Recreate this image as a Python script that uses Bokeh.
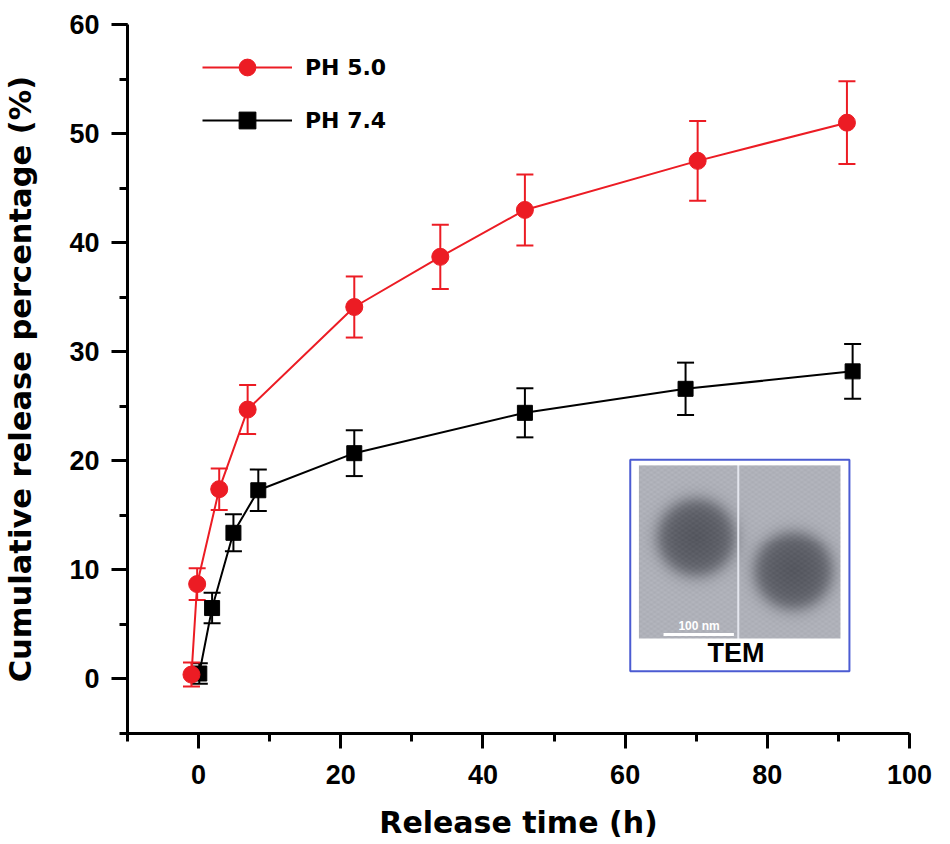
import numpy as np
from bokeh.plotting import figure
from bokeh.models import (ColumnDataSource, Whisker, TeeHead, Legend, LegendItem,
                          SingleIntervalTicker, Range1d)
from bokeh.embed import file_html
from bokeh.resources import INLINE
from bokeh.core.properties import value

# ---------------- data ----------------
time_ph50 = [-1.0, -0.2, 2.9, 6.9, 21.9, 34.0, 45.9, 70.2, 91.2]
rel_ph50 = [0.4, 8.7, 17.4, 24.7, 34.1, 38.7, 43.0, 47.5, 51.0]
err_ph50 = [1.1, 1.45, 1.9, 2.25, 2.8, 2.95, 3.25, 3.65, 3.8]

time_ph74 = [0.1, 1.9, 4.9, 8.4, 21.9, 45.9, 68.5, 92.0]
rel_ph74 = [0.5, 6.5, 13.4, 17.3, 20.7, 24.4, 26.6, 28.2]
err_ph74 = [0.95, 1.4, 1.7, 1.9, 2.1, 2.25, 2.4, 2.5]

series_labels = ["PH 5.0", "PH 7.4"]
x_title = "Release time (h)"
y_title = "Cumulative release percentage (%)"
inset_title = "TEM"
scale_text = "100 nm"

RED = "#ec1c24"
BLACK = "#000000"
BLUE = "#4b5bd2"

p = figure(width=950, height=844, output_backend="svg", toolbar_location=None,
           x_range=Range1d(-10, 100), y_range=Range1d(-5, 60),
           min_border_left=124, min_border_right=41,
           min_border_top=24, min_border_bottom=111)
p.outline_line_color = None
p.grid.visible = False
p.background_fill_color = "white"
p.border_fill_color = "white"

p.xaxis.ticker = SingleIntervalTicker(interval=20, num_minor_ticks=2)
p.yaxis.ticker = SingleIntervalTicker(interval=10, num_minor_ticks=2)
for ax in (p.xaxis, p.yaxis):
    ax.axis_line_width = 3
    ax.major_tick_line_width = 3
    ax.minor_tick_line_width = 3
    ax.major_tick_in = 0
    ax.minor_tick_in = 0
    ax.minor_tick_out = 8
    ax.major_label_text_font = "Liberation Sans"
    ax.major_label_text_font_style = "bold"
    ax.major_label_text_font_size = "27px"
    ax.major_label_text_color = "black"
    ax.axis_line_color = "black"
    ax.major_tick_line_color = "black"
    ax.minor_tick_line_color = "black"
    ax.axis_label_text_font = "DejaVu Sans"
    ax.axis_label_text_font_style = "bold"
    ax.axis_label_text_color = "black"
p.xaxis.major_tick_out = 15
p.yaxis.major_tick_out = 16
p.xaxis.major_label_standoff = 16
p.yaxis.major_label_standoff = 12

p.xaxis.axis_label = x_title
p.xaxis.axis_label_text_font_size = "30px"
p.xaxis.axis_label_standoff = 18

p.yaxis.axis_label = y_title
p.yaxis.axis_label_text_font_size = "30.5px"
p.yaxis.axis_label_standoff = 28

# ---------------- series ----------------
def make_source(t, r, e):
    return ColumnDataSource(dict(
        x=t, y=r,
        upper=[a + b for a, b in zip(r, e)],
        lower=[a - b for a, b in zip(r, e)]))

src74 = make_source(time_ph74, rel_ph74, err_ph74)
src50 = make_source(time_ph50, rel_ph50, err_ph50)

l74 = p.line("x", "y", source=src74, line_color=BLACK, line_width=2)
p.add_layout(Whisker(base="x", upper="upper", lower="lower", source=src74,
                     dimension="height", line_color=BLACK, line_width=2,
                     upper_head=TeeHead(size=17, line_color=BLACK, line_width=2),
                     lower_head=TeeHead(size=17, line_color=BLACK, line_width=2)))
s74 = p.scatter("x", "y", source=src74, marker="square", size=15,
                fill_color=BLACK, line_color=BLACK)

l50 = p.line("x", "y", source=src50, line_color=RED, line_width=2)
p.add_layout(Whisker(base="x", upper="upper", lower="lower", source=src50,
                     dimension="height", line_color=RED, line_width=2,
                     upper_head=TeeHead(size=17, line_color=RED, line_width=2),
                     lower_head=TeeHead(size=17, line_color=RED, line_width=2)))
s50 = p.scatter("x", "y", source=src50, marker="circle", size=17,
                fill_color=RED, line_color=RED)

legend = Legend(items=[LegendItem(label=series_labels[0], renderers=[l50, s50]),
                       LegendItem(label=series_labels[1], renderers=[l74, s74])],
                location=(75, 592), glyph_width=90, glyph_height=42,
                label_standoff=13, spacing=11, padding=0, margin=0,
                border_line_color=None, background_fill_alpha=0,
                label_text_font="DejaVu Sans", label_text_font_style="bold",
                label_text_font_size="22px", label_text_color="black")
p.add_layout(legend)

# ---------------- TEM inset (decoration) ----------------
box = dict(left=60.72, right=91.55, top=20.1, bottom=0.71)
photo = dict(x0=61.94, x1=90.29, y0=3.71, y1=19.58)
p.quad(left=box["left"], right=box["right"], top=box["top"], bottom=box["bottom"],
       fill_color="white", line_color=BLUE, line_width=2)

W, H = 202, 174
xx, yy = np.meshgrid(np.arange(W) + 0.5, np.arange(H) + 0.5)
g = np.full((H, W), 178.0)
g += 6.0 * np.sin(xx * 0.9) * np.cos(yy * 1.3)  # faint texture
for cx, cy, rr in ((57.3, 72.6, 39.0), (154.0, 106.0, 39.0)):
    d = np.hypot(xx - cx, yy - cy)
    t = 1.0 / (1.0 + np.exp((d - rr) / 4.5))
    core = np.clip(1.0 - d / rr, 0, 1)
    g = g - (178.0 - 100.0) * t - 12.0 * core
g[:, 98:100] = 230.0
g = np.clip(g, 0, 255)
img = np.empty((H, W), dtype=np.uint32)
view = img.view(dtype=np.uint8).reshape((H, W, 4))
view[..., 0] = np.clip(g - 2, 0, 255).astype(np.uint8)
view[..., 1] = np.clip(g, 0, 255).astype(np.uint8)
view[..., 2] = np.clip(g + 8, 0, 255).astype(np.uint8)
view[..., 3] = 255
img = img[::-1].copy()
p.image_rgba(image=[img], x=photo["x0"], y=photo["y0"],
             dw=photo["x1"] - photo["x0"], dh=photo["y1"] - photo["y0"])

p.segment(x0=[65.4], y0=[4.07], x1=[75.3], y1=[4.07], line_color="white", line_width=3)
p.text(x=[70.4], y=[4.85], text=[scale_text], text_color="white",
       text_font=value("Liberation Sans"), text_font_style="bold",
       text_font_size="12px", text_align="center", text_baseline="middle")
p.text(x=[75.6], y=[2.35], text=[inset_title], text_color="black",
       text_font=value("Liberation Sans"), text_font_style="bold",
       text_font_size="27px", text_align="center", text_baseline="middle")

open("out.html", "w").write(file_html(p, INLINE))
